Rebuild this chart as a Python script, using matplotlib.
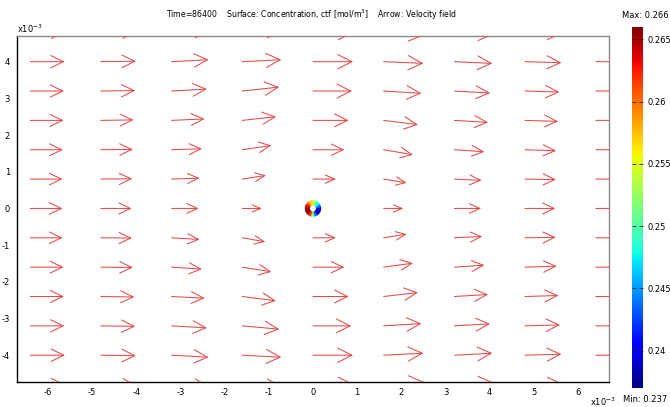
import numpy as np
import matplotlib
matplotlib.use('Agg')
import matplotlib.pyplot as plt
from matplotlib.collections import PolyCollection
from matplotlib.ticker import FuncFormatter

# arrow grid (m)
x_grid = [-6.4e-3, -4.8e-3, -3.2e-3, -1.6e-3, 0.0, 1.6e-3, 3.2e-3, 4.8e-3, 6.4e-3]
y_grid = [4.8e-3, 4.0e-3, 3.2e-3, 2.4e-3, 1.6e-3, 0.8e-3, 0.0,
          -0.8e-3, -1.6e-3, -2.4e-3, -3.2e-3, -4.0e-3, -4.8e-3]

# velocity field, x component (rows follow y_grid, cols follow x_grid)
u = [
    [35.0, 36.0, 38.0, 40.0, 41.0, 40.5, 39.0, 37.0, 35.0],
    [34.3, 35.0, 37.0, 39.0, 40.0, 39.7, 38.0, 36.3, 34.5],
    [33.7, 34.3, 35.3, 37.0, 39.0, 37.7, 35.7, 34.3, 34.0],
    [33.3, 32.7, 33.0, 33.7, 35.7, 34.3, 33.7, 33.0, 33.5],
    [32.7, 32.0, 30.3, 29.0, 31.3, 29.3, 30.0, 31.0, 32.5],
    [32.3, 31.3, 28.0, 23.7, 23.0, 23.0, 27.3, 31.0, 32.3],
    [32.3, 30.7, 27.0, 19.7, 0.0, 19.7, 26.7, 30.3, 32.0],
    [32.3, 31.0, 28.0, 23.0, 23.0, 23.0, 28.0, 30.7, 32.3],
    [33.3, 32.0, 30.3, 29.0, 31.3, 29.3, 30.0, 31.7, 32.7],
    [33.7, 33.3, 33.0, 33.7, 35.7, 34.3, 33.7, 33.3, 33.5],
    [34.0, 34.3, 35.3, 37.0, 38.3, 37.7, 35.7, 35.0, 34.0],
    [34.7, 35.0, 37.0, 39.0, 40.0, 39.7, 38.0, 36.3, 34.7],
    [35.0, 36.0, 38.0, 40.0, 41.0, 40.5, 39.0, 37.0, 35.0],
]
# y component
v = [
    [0.3, 0.8, 2.0, 2.5, 0.0, -2.5, -2.0, -1.0, -0.3],
    [0.0, 0.5, 2.0, 2.0, 0.0, -1.7, -1.7, -1.0, 0.0],
    [0.0, 0.5, 2.0, 4.0, 0.0, -2.3, -2.0, -1.0, 0.0],
    [0.0, 0.5, 1.5, 3.7, 0.0, -4.3, -2.0, -1.0, 0.0],
    [0.0, 0.3, 1.0, 4.3, 0.0, -5.0, -2.0, -1.0, 0.0],
    [0.0, 0.3, 1.0, 3.7, 0.0, -3.7, -1.3, -0.5, 0.0],
    [0.0, 0.0, 0.0, 0.0, 0.0, 0.0, 0.0, 0.0, 0.0],
    [0.0, -0.3, -1.7, -4.0, 0.0, 3.7, 1.3, 0.5, 0.0],
    [0.0, -0.3, -2.0, -4.7, 0.0, 4.0, 2.0, 1.0, 0.0],
    [0.0, -0.5, -1.7, -4.3, 0.0, 4.0, 2.0, 1.0, 0.0],
    [0.0, -0.5, -2.0, -3.3, 0.0, 2.3, 2.0, 1.0, 0.0],
    [0.0, -0.5, -2.0, -2.0, 0.0, 2.0, 2.0, 1.0, 0.0],
    [-0.3, -0.8, -2.0, -2.5, 0.0, 2.5, 2.0, 1.0, 0.3],
]

# concentration on the particle surface, sectors counter-clockwise from +x
sector_deg = [0, 22.5, 45, 67.5, 90, 112.5, 135, 157.5,
              180, 202.5, 225, 247.5, 270, 292.5, 315, 337.5]
conc = [0.240, 0.244, 0.248, 0.251, 0.254, 0.257, 0.260, 0.263,
        0.265, 0.266, 0.265, 0.262, 0.252, 0.244, 0.239, 0.238]
c_min, c_max = 0.237, 0.266
cbar_ticks = [0.24, 0.245, 0.25, 0.255, 0.26, 0.265]

fs = 6
fig = plt.figure(figsize=(6.7, 4.07), dpi=100)
ax = fig.add_axes([17/670, 25/407, 592/670, 346/407])
ax.set_xlim(-6.7e-3, 6.7e-3)
ax.set_ylim(-4.73e-3, 4.70e-3)

# arrows: tail on the grid point, length in points
arrow_scale = 0.72
for i, yy in enumerate(y_grid):
    for j, xx in enumerate(x_grid):
        du, dv = u[i][j], v[i][j]
        L = np.hypot(du, dv)
        if L == 0:
            continue
        hl = (3 + 0.28 * L) * 0.72
        hw = 0.18 * L * 0.72
        a = ax.annotate('', xy=(xx, yy), xytext=(du * arrow_scale, dv * arrow_scale),
                        textcoords='offset points', annotation_clip=False,
                        arrowprops=dict(arrowstyle=f'<-,head_length={hl:.2f},head_width={hw:.2f}',
                                        mutation_scale=1, shrinkA=0, shrinkB=0,
                                        patchA=None, patchB=None,
                                        color='#e44a4a', lw=0.75))
        a.arrow_patch.set_clip_path(ax.patch)

# particle ring
rx, ry = 0.181e-3, 0.218e-3
r_in = 0.4
polys = []
for d in sector_deg:
    t = np.radians(np.linspace(d - 11.25, d + 11.25, 6))
    outer = np.column_stack([rx * np.cos(t), ry * np.sin(t)])
    inner = np.column_stack([rx * r_in * np.cos(t[::-1]), ry * r_in * np.sin(t[::-1])])
    polys.append(np.vstack([outer, inner]))
pc = PolyCollection(polys, array=np.array(conc), cmap='jet', edgecolors='face', linewidths=0.3)
pc.set_clim(c_min, c_max)
ax.add_collection(pc)

ax.set_xticks(np.arange(-6, 7) * 1e-3)
ax.set_yticks(np.arange(-4, 5) * 1e-3)
fmt = FuncFormatter(lambda val, pos: f'{val * 1e3:.0f}')
ax.xaxis.set_major_formatter(fmt)
ax.yaxis.set_major_formatter(fmt)
ax.tick_params(axis='x', length=0, labelsize=fs, pad=4)
ax.tick_params(axis='y', length=0, labelsize=fs, pad=5)
for s in ['left', 'bottom']:
    ax.spines[s].set_color('black')
for s in ['top', 'right']:
    ax.spines[s].set_color('#8a8a8a')
for s in ax.spines.values():
    s.set_linewidth(1)

fig.text(17/670, 1 - 33/407, 'x10$^{-3}$', fontsize=fs, ha='left', va='baseline')
fig.text(590/670, 1 - 406/407, 'x10$^{-3}$', fontsize=fs, ha='left', va='baseline')

fig.text(311/670, 1 - 15/407,
         'Time=86400    Surface: Concentration, ctf [mol/m$^3$]    Arrow: Velocity field',
         fontsize=5.6, ha='center', va='center')

# colour bar
cax = fig.add_axes([632/670, 19/407, 11/670, 361/407])
cb = fig.colorbar(pc, cax=cax, ticks=cbar_ticks, format='%g')
cb.outline.set_visible(False)
cax.tick_params(direction='in', left=True, right=True, length=3, width=0.6,
                color='#202020', labelsize=fs, pad=3)
fig.text(645/670, 1 - 15/407, f'Max: {c_max:g}', fontsize=fs, ha='center', va='center')
fig.text(645/670, 1 - 400/407, f'Min: {c_min:g}', fontsize=fs, ha='center', va='center')

fig.savefig('out.png', dpi=100)
